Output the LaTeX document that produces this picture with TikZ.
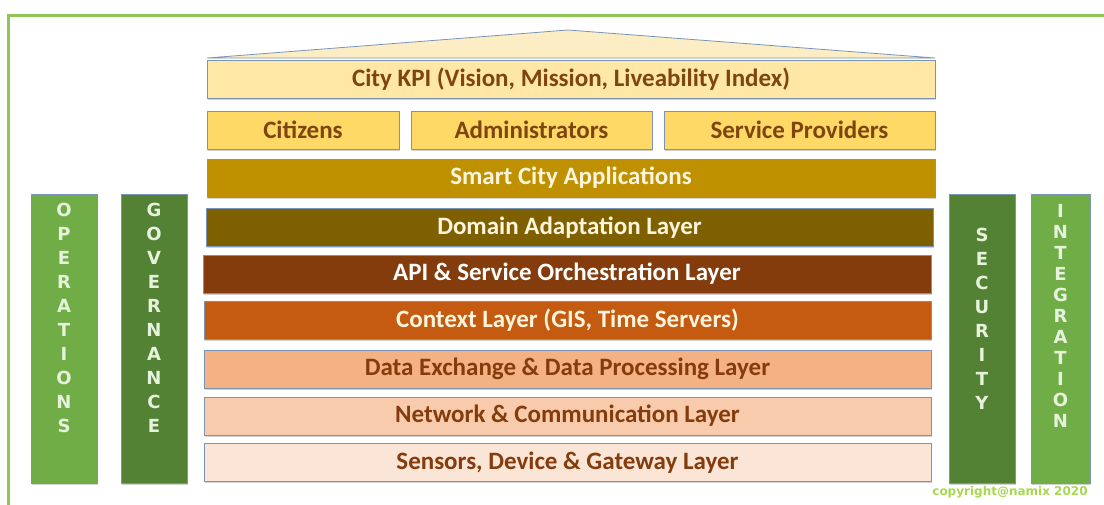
\documentclass[tikz,border=0pt]{standalone}
\usepackage{fontspec}
\setmainfont{Carlito}
\newfontfamily\letterfont{DejaVu Sans}
\usepackage{xcolor}
\usepackage{tikz}
\usetikzlibrary{shadows}
\definecolor{framegreen}{HTML}{8DC653}
\definecolor{edgeblue}{HTML}{7895B8}
\definecolor{roofyellow}{HTML}{FDEDC4}
\definecolor{kpiyellow}{HTML}{FFE8A6}
\definecolor{rolegold}{HTML}{FFD966}
\definecolor{appgold}{HTML}{BF9000}
\definecolor{domainolive}{HTML}{7F6000}
\definecolor{apibrown}{HTML}{843C0C}
\definecolor{contextorange}{HTML}{C55A11}
\definecolor{dataorange}{HTML}{F4B183}
\definecolor{netpeach}{HTML}{F8CBAD}
\definecolor{sensorpeach}{HTML}{FBE5D6}
\definecolor{pillarlight}{HTML}{70AD47}
\definecolor{pillardark}{HTML}{548235}
\definecolor{browntext}{HTML}{7F4410}
\definecolor{paletext}{HTML}{FFF5DC}
\definecolor{letterwhite}{HTML}{E6F2DC}
\definecolor{copygreen}{HTML}{A8D84E}
\tikzset{
	layernode/.style={rectangle, draw=edgeblue, line width=0.8pt, inner sep=0pt, minimum width=728pt, minimum height=38pt, font=\bfseries\fontsize{25}{25}\selectfont, drop shadow={shadow xshift=1pt, shadow yshift=-1.5pt, opacity=.35}},
	rolenode/.style={layernode, fill=rolegold, text=browntext},
	pillarnode/.style={rectangle, draw=edgeblue, line width=0.8pt, minimum width=66pt, minimum height=289pt, drop shadow={shadow xshift=1pt, shadow yshift=-1.5pt, opacity=.35}},
	pillartext/.style={align=center, inner sep=0pt, text=letterwhite}
}

\begin{document}
\begin{tikzpicture}[x=1pt, y=-1pt]
		\useasboundingbox (0,0) rectangle (1104,504);
		\fill[white] (0,0) rectangle (1104,504);
		%frame
		\coordinate (fb) at (8,506);
		\coordinate (fc) at (8,15);
		\coordinate (fr) at (1106,15);
		\draw[framegreen, line width=3pt] (fb) -- (fc) -- (fr);
		
		%roof
		\coordinate (rl) at (207,58);
		\coordinate (rt) at (568,30);
		\coordinate (rr) at (935,58);
		\draw[edgeblue, fill=roofyellow, line width=0.8pt] (rl) -- (rt) -- (rr) -- cycle;
		
		%Layers
		\node[layernode, fill=kpiyellow, text=browntext] at (571,79.5) (kpi) {City KPI (Vision, Mission, Liveability Index)};
		\node[rolenode, minimum width=192pt] at (303,130) (cit) {Citizens};
		\node[rolenode, minimum width=241pt] at (531.5,130) (adm) {Administrators};
		\node[rolenode, minimum width=271pt] at (799.5,130) (sp) {Service Providers};
		\node[layernode, fill=appgold, text=paletext] at (571,178) (app) {Smart City Applications};
		\node[layernode, fill=domainolive, text=paletext, minimum width=727pt] at (569.5,227.5) (dom) {Domain Adaptation Layer};
		\node[layernode, fill=apibrown, text=white] at (567,274) (api) {API \& Service Orchestration Layer};
		\node[layernode, fill=contextorange, text=paletext, minimum width=727pt] at (567.5,320) (ctx) {Context Layer (GIS, Time Servers)};
		\node[layernode, fill=dataorange, text=apibrown, minimum width=727pt] at (567.5,369) (dex) {Data Exchange \& Data Processing Layer};
		\node[layernode, fill=netpeach, text=apibrown, minimum width=727pt] at (567.5,416) (net) {Network \& Communication Layer};
		\node[layernode, fill=sensorpeach, text=apibrown, minimum width=727pt] at (567.5,462.5) (sen) {Sensors, Device \& Gateway Layer};
		
		%Pillars
		\node[pillarnode, fill=pillarlight] at (64,338.5) (ops) {};
		\node[pillarnode, fill=pillardark] at (154,338.5) (gov) {};
		\node[pillarnode, fill=pillardark] at (982,338.5) (sec) {};
		\node[pillarnode, fill=pillarlight, minimum width=59pt] at (1060.5,338.5) (int) {};
		\node[pillartext, font=\letterfont\bfseries\fontsize{18}{24}\selectfont] at (ops.center |- 0,318) (opsT) {O\\P\\E\\R\\A\\T\\I\\O\\N\\S};
		\node[pillartext, font=\letterfont\bfseries\fontsize{18}{24}\selectfont] at (gov.center |- 0,318) (govT) {G\\O\\V\\E\\R\\N\\A\\N\\C\\E};
		\node[pillartext, font=\letterfont\bfseries\fontsize{18}{24}\selectfont] at (sec.center |- 0,319) (secT) {S\\E\\C\\U\\R\\I\\T\\Y};
		\node[pillartext, font=\letterfont\bfseries\fontsize{18}{21}\selectfont] at (int.center |- 0,315.5) (intT) {I\\N\\T\\E\\G\\R\\A\\T\\I\\O\\N};
		
		\node[text=copygreen, font=\letterfont\bfseries\fontsize{12}{12}\selectfont, inner sep=0pt] at (1010,492) (copy) {copyright@namix 2020};
	\end{tikzpicture}
\end{document}
